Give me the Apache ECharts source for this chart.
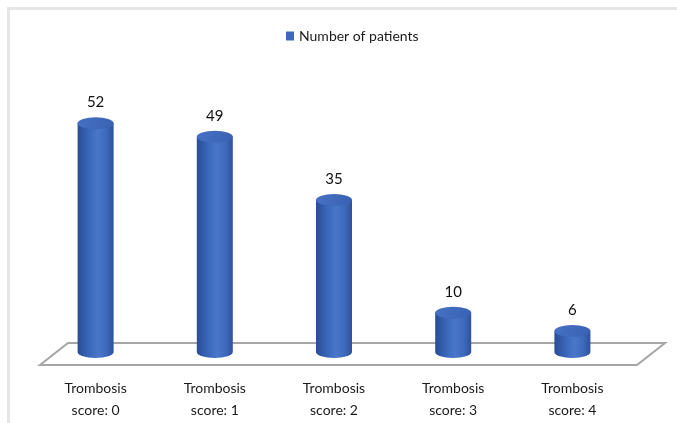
<!DOCTYPE html>
<html>
<head>
<meta charset="utf-8">
<script src="https://cdn.jsdelivr.net/npm/echarts@6/dist/echarts.min.js"></script>
<style>
  html, body { margin: 0; padding: 0; background: #ffffff; }
  #chart { width: 677px; height: 423px; }
</style>
</head>
<body>
<div id="chart"></div>
<script>
// Category labels (two lines each) and patient counts per score
const categories = [
  'Trombosis\nscore: 0',
  'Trombosis\nscore: 1',
  'Trombosis\nscore: 2',
  'Trombosis\nscore: 3',
  'Trombosis\nscore: 4'
];
const patients = [52, 49, 35, 10, 6];
const seriesName = 'Number of patients';

const FONT = 'Lato, "Open Sans", sans-serif';
const RX = 18;   // cylinder half width
const RY = 6;    // ellipse vertical radius

const bodyFill = new echarts.graphic.LinearGradient(0, 0, 1, 0, [
  { offset: 0, color: '#294c95' },
  { offset: 0.25, color: '#3662b3' },
  { offset: 0.55, color: '#4877ca' },
  { offset: 0.8, color: '#3e69bb' },
  { offset: 1, color: '#2d519c' }
]);
const topFill = new echarts.graphic.LinearGradient(0, 0, 1, 1, [
  { offset: 0, color: '#4771c2' },
  { offset: 1, color: '#3861b4' }
]);

// Draws one cylinder from the category centre down to the value-zero baseline
function renderCylinder(params, api) {
  const idx = api.value(0);
  const val = api.value(1);
  const top = api.coord([idx, val]);
  const base = api.coord([idx, 0]);
  const x = top[0];
  const ty = top[1];
  const by = base[1] - RY;
  const body = 'M' + (x - RX) + ' ' + ty +
    ' L' + (x - RX) + ' ' + by +
    ' A' + RX + ' ' + RY + ' 0 0 0 ' + (x + RX) + ' ' + by +
    ' L' + (x + RX) + ' ' + ty + ' Z';
  const cap = 'M' + (x - RX) + ' ' + ty +
    ' A' + RX + ' ' + RY + ' 0 1 0 ' + (x + RX) + ' ' + ty +
    ' A' + RX + ' ' + RY + ' 0 1 0 ' + (x - RX) + ' ' + ty + ' Z';
  return {
    type: 'group',
    children: [
      { type: 'path', shape: { pathData: body }, style: { fill: bodyFill } },
      { type: 'path', shape: { pathData: cap }, style: { fill: topFill } },
      {
        type: 'text',
        style: {
          text: String(val),
          x: x,
          y: ty - RY - 7,
          align: 'center',
          verticalAlign: 'bottom',
          fill: '#111111',
          font: '15px ' + FONT
        }
      }
    ]
  };
}

const chart = echarts.init(document.getElementById('chart'), null, { renderer: 'canvas' });
chart.setOption({
  backgroundColor: '#ffffff',
  animation: false,
  legend: {
    data: [{ name: seriesName, icon: 'rect' }],
    left: 281,
    top: 24,
    itemWidth: 8,
    itemHeight: 9,
    textStyle: { color: '#1a1a1a', fontSize: 14, fontFamily: FONT }
  },
  grid: { left: 36, right: 45, top: 87, bottom: 65 },
  xAxis: {
    type: 'category',
    data: categories,
    axisLine: { show: false },
    axisTick: { show: false },
    axisLabel: {
      margin: 19,
      color: '#1a1a1a',
      fontSize: 14,
      lineHeight: 22,
      fontFamily: FONT,
      interval: 0
    }
  },
  yAxis: {
    type: 'value',
    min: 0,
    max: 60,
    show: false,
    splitLine: { show: false }
  },
  graphic: [
    // outer frame edges
    { type: 'line', z: -10, shape: { x1: 7, y1: 8.5, x2: 677, y2: 8.5 },
      style: { stroke: '#e6e6e6', lineWidth: 3 } },
    { type: 'line', z: -10, shape: { x1: 8.5, y1: 7, x2: 8.5, y2: 423 },
      style: { stroke: '#e6e6e6', lineWidth: 3 } },
    // floor plane
    { type: 'polygon', z: -5,
      shape: { points: [[68, 343], [665, 343], [637, 365], [40, 365]] },
      style: { fill: 'none', stroke: '#a6a6a6', lineWidth: 2 } }
  ],
  series: [{
    name: seriesName,
    type: 'custom',
    itemStyle: { color: '#3d67bd' },
    renderItem: renderCylinder,
    encode: { x: 0, y: 1 },
    data: patients.map(function (v, i) { return [i, v]; })
  }]
});
</script>
</body>
</html>
